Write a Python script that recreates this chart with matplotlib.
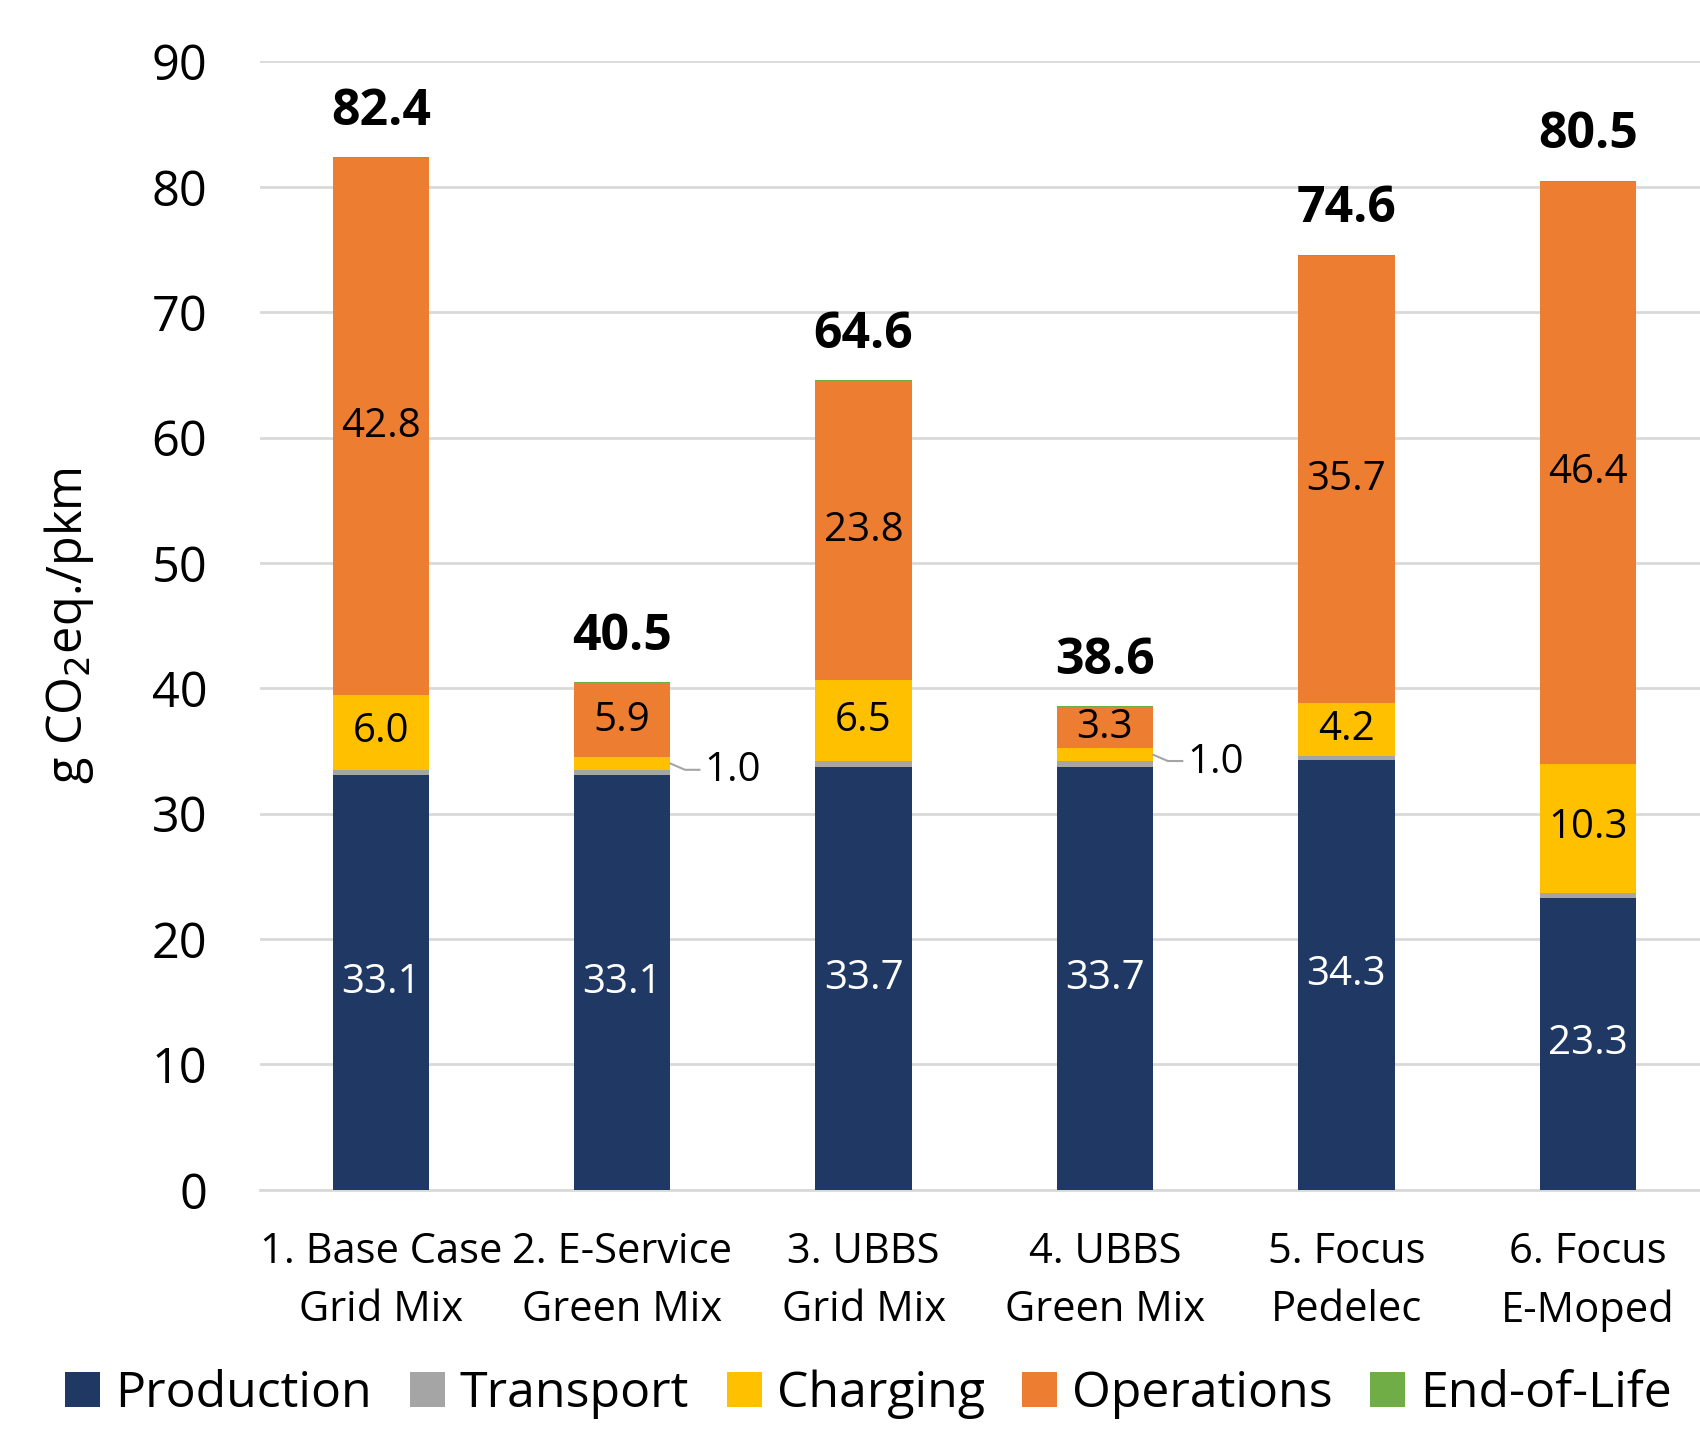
import numpy as np
import matplotlib.pyplot as plt

plt.rcParams['font.family'] = ['Open Sans', 'DejaVu Sans']

cats = ['1. Base Case\nGrid Mix', '2. E-Service\nGreen Mix', '3. UBBS\nGrid Mix',
        '4. UBBS\nGreen Mix', '5. Focus\nPedelec', '6. Focus\nE-Moped']
production = [33.1, 33.1, 33.7, 33.7, 34.3, 23.3]
transport = [0.4, 0.4, 0.5, 0.5, 0.3, 0.4]
charging = [6.0, 1.0, 6.5, 1.0, 4.2, 10.3]
operations = [42.8, 5.9, 23.8, 3.3, 35.7, 46.4]
eol = [0.1, 0.1, 0.1, 0.1, 0.1, 0.1]
totals = [82.4, 40.5, 64.6, 38.6, 74.6, 80.5]

names = ['Production', 'Transport', 'Charging', 'Operations', 'End-of-Life']
colors = ['#203864', '#a5a5a5', '#ffc000', '#ed7d31', '#70ad47']
series = [production, transport, charging, operations, eol]

fig = plt.figure(figsize=(17, 14.3), dpi=100)
ax = fig.add_axes([0.153, 0.168, 0.852, 0.789])

x = np.arange(len(cats))
w = 0.4
bottom = np.zeros(len(cats))
for s, c, n in zip(series, colors, names):
    ax.bar(x, s, w, bottom=bottom, color=c, label=n, zorder=3)
    bottom += np.array(s)

# segment labels
fs = 29
for i in range(len(cats)):
    ax.text(x[i], production[i] / 2, f'{production[i]:.1f}', ha='center', va='center',
            color='white', fontsize=fs, zorder=4)
    b = production[i] + transport[i]
    if charging[i] > 2:
        ax.text(x[i], b + charging[i] / 2, f'{charging[i]:.1f}', ha='center', va='center',
                fontsize=fs, zorder=4)
    else:
        yc = b + charging[i] / 2
        ax.plot([x[i] + w / 2, x[i] + 0.26, x[i] + 0.32], [yc, yc - 0.5, yc - 0.5],
                color='#a5a5a5', lw=1.5, zorder=4)
        ax.text(x[i] + 0.34, yc - 0.6, f'{charging[i]:.1f}', ha='left', va='center', fontsize=fs)
    b += charging[i]
    ax.text(x[i], b + operations[i] / 2, f'{operations[i]:.1f}', ha='center', va='center',
            fontsize=fs, zorder=4)
    ax.text(x[i], totals[i] + 3.6, f'{totals[i]:.1f}', ha='center', va='center',
            fontsize=36, fontweight='bold')

ax.set_ylim(0, 90)
ax.set_xlim(-0.5, 5.5)
ax.set_yticks(np.arange(0, 91, 10))
ax.tick_params(axis='y', labelsize=35, length=0, pad=38)
ax.set_xticks(x)
ax.set_xticklabels(cats, fontsize=30, linespacing=1.5)
ax.tick_params(axis='x', length=0, pad=30)
ax.grid(axis='y', color='#d9d9d9', lw=2, zorder=0)
for sp in ['top', 'right', 'left']:
    ax.spines[sp].set_visible(False)
ax.spines['bottom'].set_color('#d9d9d9')
ax.spines['bottom'].set_linewidth(2)
ax.set_ylabel('g CO$_2$eq./pkm', fontsize=35, labelpad=40)

fig.legend(loc='lower left', bbox_to_anchor=(0.012, -0.024), ncol=5, fontsize=36, frameon=False,
           handlelength=0.7, handleheight=0.7, handletextpad=0.3, columnspacing=0.75)

fig.savefig('out.png', dpi=100)
